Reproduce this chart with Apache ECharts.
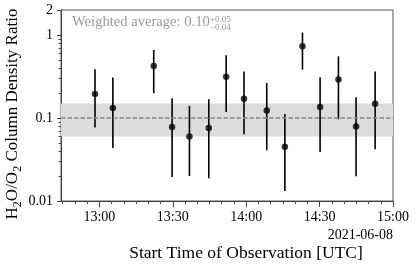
<!DOCTYPE html>
<html>
<head>
<meta charset="utf-8">
<script src="https://cdn.jsdelivr.net/npm/echarts@6/dist/echarts.min.js"></script>
<style>html,body{margin:0;padding:0;background:#fff}#c{width:415px;height:267px}</style>
</head>
<body>
<div id="c"></div>
<script>
// Observation start times (UTC, 2021-06-08)
var times = ["12:58:12","13:05:30","13:22:12","13:29:42","13:36:48","13:44:42","13:51:48","13:59:06","14:08:24","14:15:48","14:23:00","14:30:12","14:37:42","14:44:54","14:52:42"];
// H2O/O2 column density ratio
var ratio = [0.195,0.132,0.424,0.078,0.060,0.076,0.315,0.171,0.123,0.045,0.731,0.136,0.290,0.079,0.148];
var upper = [0.386,0.307,0.659,0.173,0.140,0.169,0.569,0.362,0.264,0.112,1.07,0.309,0.554,0.178,0.362];
var lower = [0.077,0.0435,0.199,0.0195,0.020,0.0188,0.118,0.0637,0.0408,0.0132,0.383,0.0389,0.0964,0.0199,0.042];
// weighted average and its band
var avg = 0.10, avgLow = 0.06, avgHigh = 0.15;
// axis ticks
var xTickLabels = ["13:00","13:30","14:00","14:30","15:00"];
var xMin = "12:44:18", xMax = "15:00";
var yMajor = [0.01, 0.1, 1, 2];
var yMinor = [0.02,0.03,0.04,0.05,0.06,0.07,0.08,0.09,0.2,0.3,0.4,0.5,0.6,0.7,0.8,0.9];

function toMin(s){var p=s.split(':');return (+p[0])*60+(+p[1])+(p[2]?(+p[2])/60:0);}
function fmt(v){var h=Math.floor(Math.round(v)/60),m=Math.round(v)%60;return h+':'+(m<10?'0':'')+m;}
var xMajor = xTickLabels.map(toMin);
var xMinorVals=[];for(var t=765;t<=900;t+=5)xMinorVals.push(t);
var xs = times.map(toMin);
var FONT='Liberation Serif';

var chart = echarts.init(document.getElementById('c'), null, {renderer:'canvas'});
var pts = xs.map(function(x,i){return [x, ratio[i]];});
var bars = xs.map(function(x,i){return [x, lower[i], upper[i]];});
chart.setOption({
  animation:false,
  grid:{left:61,right:22,top:10,bottom:66,show:true,borderColor:'#555',borderWidth:1,backgroundColor:'transparent'},
  xAxis:[{
    type:'value',min:toMin(xMin),max:toMin(xMax),position:'bottom',
    axisLine:{show:true,onZero:false,lineStyle:{color:'#444',width:1}},
    axisTick:{show:true,inside:false,length:6,customValues:xMajor,lineStyle:{color:'#444'}},
    axisLabel:{customValues:xMajor,formatter:fmt,fontFamily:FONT,fontSize:14,color:'#000',margin:9},
    splitLine:{show:false}
  },{
    type:'value',min:toMin(xMin),max:toMin(xMax),position:'bottom',
    axisLine:{show:false},
    axisTick:{show:true,inside:false,length:3,customValues:xMinorVals,lineStyle:{color:'#444'}},
    axisLabel:{show:false},splitLine:{show:false}
  }],
  yAxis:[{
    type:'log',min:0.01,max:2,position:'left',
    axisLine:{show:true,onZero:false,lineStyle:{color:'#444',width:1}},
    axisTick:{show:true,inside:false,length:4,customValues:yMajor,lineStyle:{color:'#444'}},
    axisLabel:{customValues:yMajor,formatter:function(v){return String(+v.toPrecision(3));},fontFamily:FONT,fontSize:14,color:'#000',margin:8},
    splitLine:{show:false}
  },{
    type:'log',min:0.01,max:2,position:'left',
    axisLine:{show:false},
    axisTick:{show:true,inside:false,length:2.5,customValues:yMinor,lineStyle:{color:'#444'}},
    axisLabel:{show:false},splitLine:{show:false}
  }],
  series:[{
    type:'line',data:[],xAxisIndex:0,yAxisIndex:0,z:1,silent:true,
    markArea:{silent:true,itemStyle:{color:'#dcdcdc'},data:[[{yAxis:avgLow},{yAxis:avgHigh}]]},
    markLine:{silent:true,symbol:'none',label:{show:false},lineStyle:{color:'#888',width:1.5,type:[4.5,2]},data:[{yAxis:avg}]}
  },{
    type:'custom',xAxisIndex:0,yAxisIndex:0,z:3,data:bars,encode:{x:0,y:[1,2]},
    renderItem:function(params,api){
      var a=api.coord([api.value(0),api.value(1)]);
      var b=api.coord([api.value(0),api.value(2)]);
      return {type:'line',shape:{x1:a[0],y1:a[1],x2:b[0],y2:b[1]},style:{stroke:'#000',lineWidth:1.6}};
    }
  },{
    type:'scatter',xAxisIndex:0,yAxisIndex:0,z:4,data:pts,symbol:'circle',symbolSize:6.5,
    itemStyle:{color:'#000'}
  }],
  graphic:[
    {type:'text',left:72,top:15,style:{text:'Weighted average: 0.10',font:'14.6px "Liberation Serif"',fill:'#999'}},
    {type:'text',left:210,top:15.5,style:{text:'+0.05',font:'9px "Liberation Serif"',fill:'#999'}},
    {type:'text',left:210,top:23.5,style:{text:'\u22120.04',font:'9px "Liberation Serif"',fill:'#999'}},
    {type:'text',right:22,top:228,style:{text:'2021-06-08',font:'14px "Liberation Serif"',fill:'#000'}},
    {type:'text',x:246,y:253,style:{text:'Start Time of Observation [UTC]',font:'17.5px "Liberation Serif"',fill:'#000',align:'center',verticalAlign:'middle'}},
    {type:'text',x:13,y:114,rotation:Math.PI/2,style:{
      text:'{m|H}{s|2}{m|O/O}{s|2}{m| Column Density Ratio}',align:'center',verticalAlign:'middle',
      rich:{m:{fontFamily:FONT,fontSize:17,fill:'#000',lineHeight:22,verticalAlign:'middle'},
            s:{fontFamily:FONT,fontSize:12,fill:'#000',lineHeight:22,verticalAlign:'bottom',padding:[8,0,0,0]}}
    }}
  ]
});
</script>
</body>
</html>
